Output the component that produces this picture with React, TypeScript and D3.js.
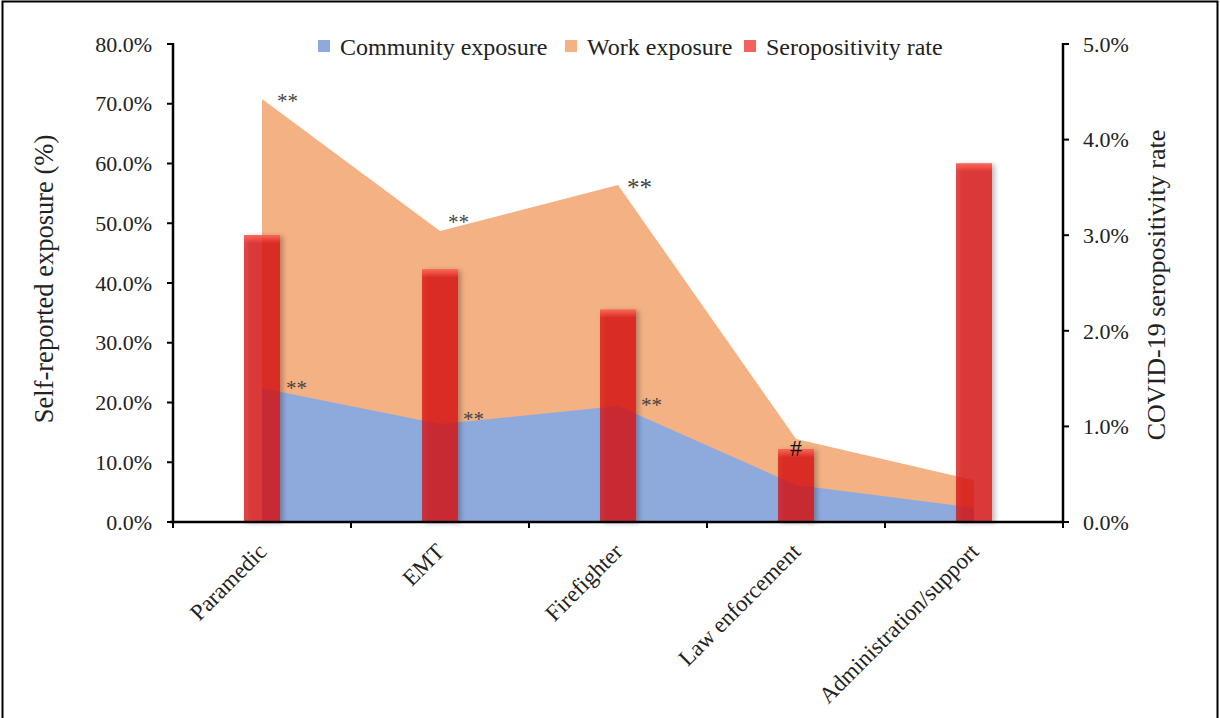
import React from "react";
import * as d3 from "d3";

const categories = ["Paramedic", "EMT", "Firefighter", "Law enforcement", "Administration/support"];
const communityExposure = [22.4, 16.4, 19.4, 6.2, 2.4];
const workExposure = [70.8, 48.7, 56.4, 13.9, 7.0];
const seropositivity = [3.0, 2.64, 2.22, 0.76, 3.75];
const leftTicks = [0, 10, 20, 30, 40, 50, 60, 70, 80];
const rightTicks = [0, 1, 2, 3, 4, 5];
const annotations = [
  { cat: 0, series: "work", text: "**", anchor: "start", dx: 15, dc: -1, size: 21 },
  { cat: 0, series: "community", text: "**", anchor: "start", dx: 24, dc: -4, size: 21 },
  { cat: 1, series: "work", text: "**", anchor: "start", dx: 8, dc: -13, size: 21 },
  { cat: 1, series: "community", text: "**", anchor: "start", dx: 23, dc: -9, size: 21 },
  { cat: 2, series: "work", text: "**", anchor: "start", dx: 9, dc: -2, size: 25 },
  { cat: 2, series: "community", text: "**", anchor: "start", dx: 23, dc: -5, size: 21 },
  { cat: 3, series: "sero", text: "#", anchor: "middle", dx: 0, dc: -2, size: 24 },
];

const W = 1220;
const H = 718;
const M = { left: 173, right: 1063, top: 44, bottom: 522 };
const FONT = "'Liberation Serif', 'Times New Roman', serif";
const BLUE = "#8eaadc";
const ORANGE = "#f3b184";
const RED = "#dc1414";

export default function App() {
  const x = d3.scaleBand<string>().domain(categories).range([M.left, M.right]).padding(0);
  const cx = (i: number) => (x(categories[i]) as number) + x.bandwidth() / 2;
  const yL = d3.scaleLinear().domain([0, 80]).range([M.bottom, M.top]);
  const yR = d3.scaleLinear().domain([0, 5]).range([M.bottom, M.top]);
  const barW = 36;

  const areaGen = d3
    .area<number>()
    .x((_, i) => cx(i))
    .y0(yL(0))
    .y1((d) => yL(d));

  const boundaries = categories.map((c) => x(c) as number).concat([M.right]);

  const legend = [
    { label: "Community exposure", color: BLUE, x: 318 },
    { label: "Work exposure", color: ORANGE, x: 565 },
    { label: "Seropositivity rate", color: "#f26060", x: 744 },
  ];

  const annY = (a: any) => {
    if (a.series === "work") return yL(workExposure[a.cat]);
    if (a.series === "community") return yL(communityExposure[a.cat]);
    return yR(seropositivity[a.cat]);
  };

  return (
    <svg
      width={W}
      height={H}
      style={{ position: "absolute", left: 0, top: 0, display: "block", background: "#fff" }}
      fontFamily={FONT}
    >
      <defs>
        <filter id="shadow" x="-30%" y="-5%" width="160%" height="110%">
          <feDropShadow dx="3" dy="1" stdDeviation="2.5" floodColor="#000" floodOpacity="0.35" />
        </filter>
        <linearGradient id="barTop" x1="0" y1="0" x2="0" y2="1">
          <stop offset="0" stopColor="#ff6a5a" stopOpacity="0.9" />
          <stop offset="1" stopColor="#ff6a5a" stopOpacity="0" />
        </linearGradient>
      </defs>
      <rect x={0} y={0} width={W} height={H} fill="#fff" />
      {/* border */}
      <path d={`M2.5,${H} V1.5 H1217.5 V${H}`} fill="none" stroke="#000" strokeWidth={2} />

      {/* areas */}
      <path d={areaGen(workExposure) as string} fill={ORANGE} />
      <path d={areaGen(communityExposure) as string} fill={BLUE} />

      {/* bars */}
      {seropositivity.map((v, i) => (
        <g key={i}>
          <rect
            x={cx(i) - barW / 2}
            y={yR(v)}
            width={barW}
            height={yR(0) - yR(v)}
            fill={RED}
            fillOpacity={0.76}
            filter="url(#shadow)"
          />
          <rect x={cx(i) - barW / 2} y={yR(v)} width={barW} height={8} fill="url(#barTop)" />
        </g>
      ))}

      {/* annotations */}
      {annotations.map((a, i) => (
        <text
          key={i}
          x={cx(a.cat) + a.dx}
          y={annY(a) + a.dc + (a.text === "#" ? 0.36 : 0.5) * a.size}
          fontSize={a.size}
          fill={a.text === "#" ? "#111" : "#444"}
          textAnchor={a.anchor}
        >
          {a.text}
        </text>
      ))}

      {/* left axis */}
      <line x1={M.left} x2={M.left} y1={M.top - 1} y2={M.bottom + 1} stroke="#000" strokeWidth={2.5} />
      {leftTicks.map((t) => (
        <g key={t}>
          <line x1={M.left - 6} x2={M.left} y1={yL(t)} y2={yL(t)} stroke="#000" strokeWidth={2} />
          <text x={152} y={yL(t)} dy="0.35em" textAnchor="end" fontSize={22} fill="#222">
            {t.toFixed(1)}%
          </text>
        </g>
      ))}
      {/* right axis */}
      <line x1={M.right} x2={M.right} y1={M.top - 1} y2={M.bottom + 1} stroke="#000" strokeWidth={2.5} />
      {rightTicks.map((t) => (
        <g key={t}>
          <line x1={M.right} x2={M.right + 6} y1={yR(t)} y2={yR(t)} stroke="#000" strokeWidth={2} />
          <text x={M.right + 20} y={yR(t)} dy="0.35em" textAnchor="start" fontSize={22} fill="#222">
            {t.toFixed(1)}%
          </text>
        </g>
      ))}
      {/* x axis */}
      <line x1={M.left - 3} x2={M.right} y1={M.bottom} y2={M.bottom} stroke="#000" strokeWidth={2.5} />
      {boundaries.map((b, i) => (
        <line key={i} x1={b} x2={b} y1={M.bottom} y2={M.bottom + 6} stroke="#000" strokeWidth={2} />
      ))}
      {categories.map((c, i) => (
        <text
          key={c}
          transform={`translate(${cx(i) + 6},${M.bottom + 31}) rotate(-45)`}
          textAnchor="end"
          fontSize={23}
          fill="#222"
        >
          {c}
        </text>
      ))}

      {/* axis titles */}
      <text
        transform={`translate(53,279) rotate(-90)`}
        textAnchor="middle"
        fontSize={26.5}
        fill="#222"
      >
        Self-reported exposure (%)
      </text>
      <text
        transform={`translate(1165,285) rotate(-90)`}
        textAnchor="middle"
        fontSize={26}
        fill="#222"
      >
        COVID-19 seropositivity rate
      </text>

      {/* legend */}
      {legend.map((l) => (
        <g key={l.label}>
          <rect x={l.x} y={40} width={12} height={12} fill={l.color} />
          <text x={l.x + 22} y={47} dy="0.35em" fontSize={24} fill="#222">
            {l.label}
          </text>
        </g>
      ))}
    </svg>
  );
}
